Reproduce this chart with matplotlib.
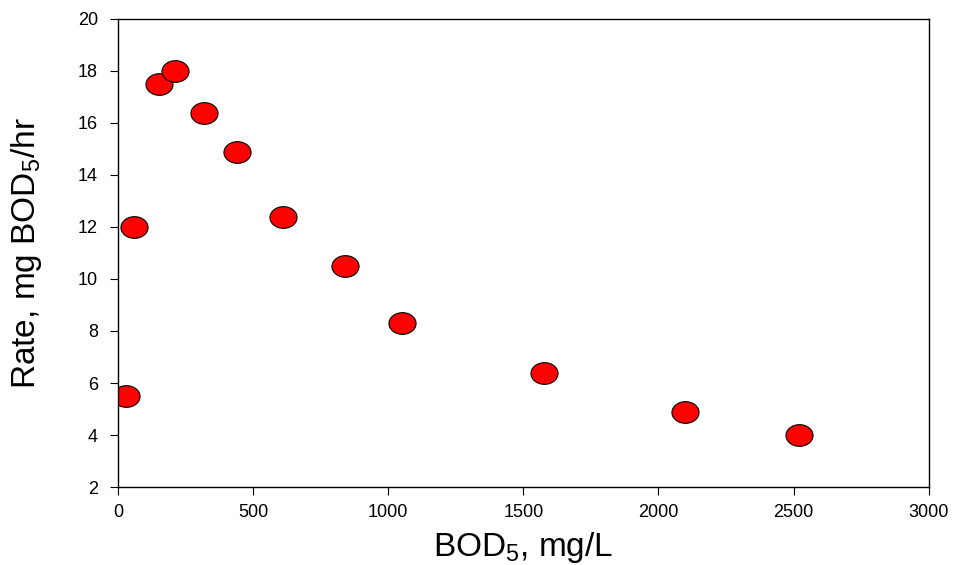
import numpy as np
import matplotlib
matplotlib.use('Agg')
import matplotlib.pyplot as plt
from matplotlib.path import Path

plt.rcParams['font.family'] = ['Liberation Sans', 'DejaVu Sans']
plt.rcParams['mathtext.fontset'] = 'custom'
plt.rcParams['mathtext.rm'] = 'Liberation Sans'
plt.rcParams['mathtext.it'] = 'Liberation Sans'

# BOD5 concentration (mg/L) and rate (mg BOD5/hr)
bod = [30, 60, 150, 210, 320, 440, 610, 840, 1050, 1575, 2100, 2520]
rate = [5.5, 12.0, 17.5, 18.0, 16.4, 14.9, 12.4, 10.5, 8.3, 6.4, 4.9, 4.0]

xticks = [0, 500, 1000, 1500, 2000, 2500, 3000]
yticks = [2, 4, 6, 8, 10, 12, 14, 16, 18, 20]

# slightly flattened circle marker
t = np.linspace(0, 2 * np.pi, 64)
verts = np.column_stack([np.cos(t), 0.8 * np.sin(t)])
ellipse = Path(verts, closed=True)

fig = plt.figure(figsize=(9.56, 5.65), dpi=100)
ax = fig.add_axes([0.1234, 0.138, 0.848, 0.8285])

ax.plot(bod, rate, linestyle='none', marker=ellipse, markersize=19.5,
        markerfacecolor='#ff0000', markeredgecolor='black', markeredgewidth=0.8)

ax.set_xlim(0, 3000)
ax.set_ylim(2, 20)
ax.set_xticks(xticks)
ax.set_yticks(yticks)
ax.tick_params(direction='out', length=5.5, width=0.8, labelsize=13,
               top=False, right=False)
ax.tick_params(axis='y', pad=9)
ax.tick_params(axis='x', pad=7)
for s in ax.spines.values():
    s.set_linewidth(1.0)

ax.set_xlabel('BOD$_5$, mg/L', fontsize=24, labelpad=6)
ax.set_ylabel('Rate, mg BOD$_5$/hr', fontsize=24, labelpad=24)

fig.savefig('out.png', dpi=100)
